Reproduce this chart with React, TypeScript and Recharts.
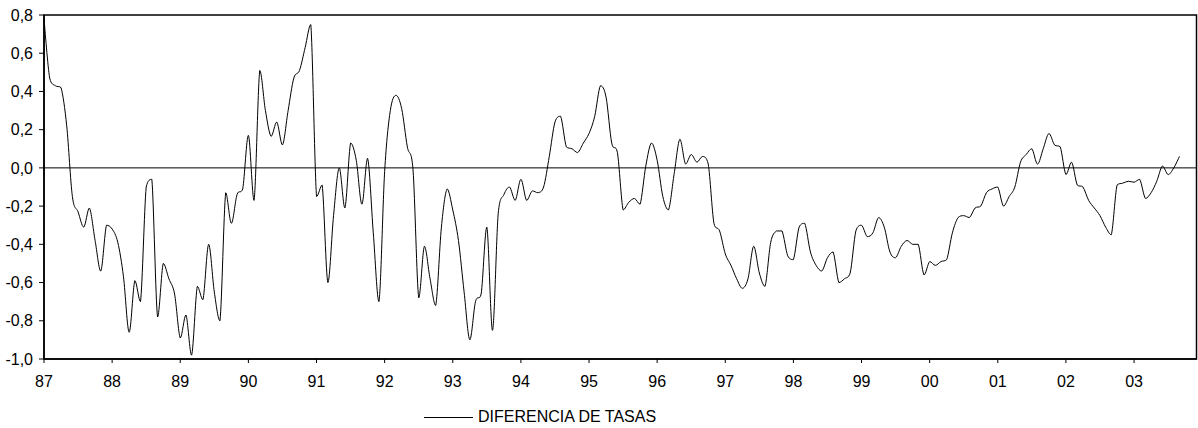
import React from "react";
import {
  LineChart,
  Line,
  XAxis,
  YAxis,
  ReferenceLine,
  ReferenceArea,
} from "recharts";

// monthly values, Jan 1987 .. Sep 2003
const diferencia = [
  0.78, 0.47, 0.43, 0.42, 0.22, -0.15, -0.23, -0.31, -0.21, -0.38, -0.54, -0.3,
  -0.32, -0.39, -0.57, -0.86, -0.59, -0.7, -0.1, -0.06, -0.78, -0.5, -0.58, -0.66,
  -0.89, -0.77, -0.98, -0.62, -0.69, -0.4, -0.65, -0.8, -0.13, -0.29, -0.14, -0.11,
  0.17, -0.17, 0.51, 0.3, 0.165, 0.24, 0.12, 0.3, 0.47, 0.51, 0.63, 0.75,
  -0.15, -0.09, -0.6, -0.25, 0.0, -0.21, 0.13, 0.04, -0.19, 0.05, -0.34, -0.7,
  -0.02, 0.3, 0.38, 0.31, 0.11, -0.01, -0.68, -0.41, -0.58, -0.72, -0.31, -0.11,
  -0.22, -0.38, -0.65, -0.9, -0.7, -0.66, -0.31, -0.85, -0.24, -0.14, -0.1, -0.17,
  -0.06, -0.17, -0.12, -0.13, -0.1, 0.06, 0.24, 0.27, 0.11, 0.1, 0.08, 0.13,
  0.18, 0.27, 0.43, 0.37, 0.13, 0.08, -0.22, -0.18, -0.16, -0.19, 0.01, 0.13,
  0.04, -0.15, -0.22, -0.03, 0.15, 0.02, 0.07, 0.03, 0.06, 0.02, -0.29, -0.33,
  -0.45, -0.51, -0.58, -0.63, -0.58, -0.41, -0.55, -0.62, -0.39, -0.33, -0.33, -0.46,
  -0.48, -0.31, -0.29, -0.44, -0.51, -0.54, -0.47, -0.44, -0.6, -0.58, -0.55, -0.33,
  -0.3, -0.36, -0.34, -0.26, -0.31, -0.44, -0.47, -0.41, -0.38, -0.4, -0.4, -0.56,
  -0.49, -0.51, -0.49, -0.48, -0.34, -0.26, -0.25, -0.26, -0.21, -0.2, -0.13, -0.11,
  -0.1, -0.2, -0.15, -0.1, 0.03, 0.07, 0.1, 0.02, 0.1, 0.18, 0.12, 0.11,
  -0.035, 0.03, -0.09, -0.1, -0.17, -0.21, -0.25, -0.31, -0.35, -0.09, -0.08, -0.07,
  -0.075, -0.06, -0.16, -0.13, -0.07, 0.01, -0.035, 0.0, 0.06,
];

const yearLabels = [
  "87", "88", "89", "90", "91", "92", "93", "94", "95",
  "96", "97", "98", "99", "00", "01", "02", "03",
];

const yTicks = [-1.0, -0.8, -0.6, -0.4, -0.2, 0.0, 0.2, 0.4, 0.6, 0.8];

const data = diferencia.map((v, i) => ({ m: i, v }));
const xTicks = yearLabels.map((_, i) => i * 12);

const FONT = "'Liberation Sans', Arial, sans-serif";

// smoothed line like Excel's, Catmull-Rom with control points kept inside
// each segment's vertical range so peaks don't overshoot
const smoothCurve = (ctx: any) => {
  let pts: number[][] = [];
  const clamp = (v: number, a: number, b: number) => Math.min(Math.max(v, Math.min(a, b)), Math.max(a, b));
  return {
    areaStart() {},
    areaEnd() {},
    lineStart() {
      pts = [];
    },
    point(x: number, y: number) {
      pts.push([+x, +y]);
    },
    lineEnd() {
      if (!pts.length) return;
      ctx.moveTo(pts[0][0], pts[0][1]);
      for (let i = 0; i < pts.length - 1; i++) {
        const p0 = pts[i - 1] || pts[i];
        const p1 = pts[i];
        const p2 = pts[i + 1];
        const p3 = pts[i + 2] || p2;
        ctx.bezierCurveTo(
          p1[0] + (p2[0] - p0[0]) / 6,
          clamp(p1[1] + (p2[1] - p0[1]) / 6, p1[1], p2[1]),
          p2[0] - (p3[0] - p1[0]) / 6,
          clamp(p2[1] - (p3[1] - p1[1]) / 6, p1[1], p2[1]),
          p2[0],
          p2[1]
        );
      }
    },
  };
};

export default function App() {
  return (
    <div style={{ position: "absolute", left: 0, top: 0, width: 1198, height: 428, background: "#fff" }}>
      <LineChart width={1198} height={428} data={data} margin={{ top: 15, right: 1.5, bottom: 39, left: 0 }}>
        <ReferenceArea x1={0} x2={203} y1={-1} y2={0.8} fill="none" stroke="#000" strokeWidth={1.5} />
        <ReferenceLine y={0} stroke="#000" strokeWidth={1} />
        <XAxis
          dataKey="m"
          type="number"
          domain={[0, 203]}
          ticks={xTicks}
          tickFormatter={(v: number) => yearLabels[v / 12]}
          axisLine={{ stroke: "#000", strokeWidth: 1.5 }}
          tickLine={{ stroke: "#000" }}
          tickSize={4}
          tickMargin={13}
          height={30}
          tick={{ fill: "#000", fontSize: 16, fontFamily: FONT }}
          interval={0}
        />
        <YAxis
          type="number"
          domain={[-1, 0.8]}
          ticks={yTicks}
          tickFormatter={(v: number) => v.toFixed(1).replace(".", ",")}
          axisLine={{ stroke: "#000", strokeWidth: 1.5 }}
          tickLine={{ stroke: "#000" }}
          tickSize={5}
          tickMargin={6}
          width={44}
          tick={{ fill: "#000", fontSize: 16, fontFamily: FONT }}
          interval={0}
        />
        <Line
          type={smoothCurve as any}
          dataKey="v"
          stroke="#000"
          strokeWidth={1}
          dot={false}
          isAnimationActive={false}
        />
      </LineChart>
      <div
        style={{
          position: "absolute",
          left: 424,
          top: 407,
          height: 20,
          display: "flex",
          alignItems: "center",
          fontFamily: FONT,
          fontSize: 16,
          color: "#000",
          whiteSpace: "nowrap",
        }}
      >
        <div style={{ width: 49, height: 1, background: "#000" }} />
        <span style={{ marginLeft: 5 }}>DIFERENCIA DE TASAS</span>
      </div>
    </div>
  );
}
